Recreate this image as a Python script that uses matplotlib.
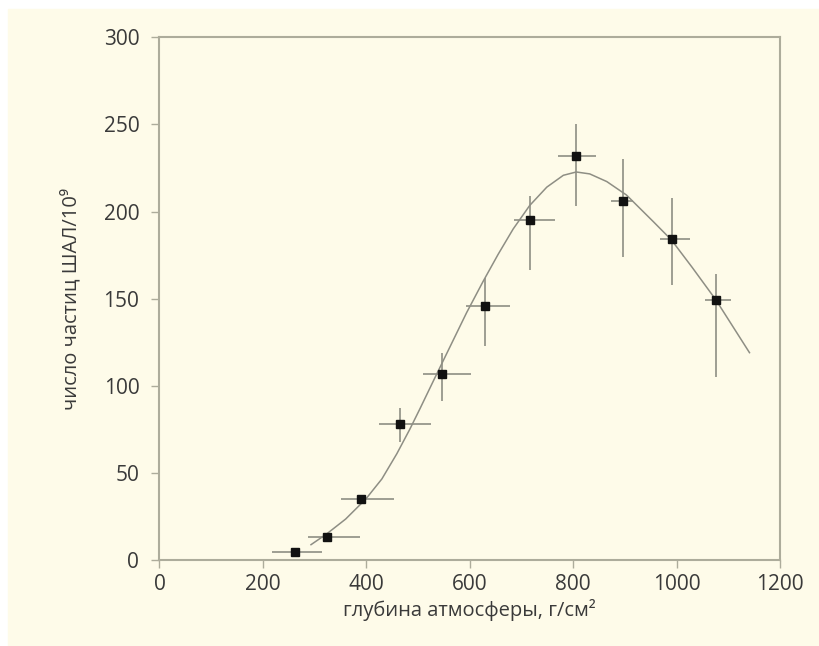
import numpy as np
import matplotlib
matplotlib.use("Agg")
import matplotlib.pyplot as plt
from matplotlib.patches import Rectangle

plt.rcParams["font.family"] = ["Open Sans", "DejaVu Sans"]

# measured points (depth g/cm^2, particles / 1e9)
depth = [263, 323, 390, 466, 546, 630, 717, 805, 896, 991, 1076]
count = [4.6, 13.4, 34.8, 78, 107, 146, 195, 232, 206, 184, 149]
depth_lo = [217, 287, 351, 425, 510, 592, 686, 771, 873, 967, 1055]
depth_hi = [314, 388, 454, 525, 602, 677, 764, 844, 916, 1026, 1105]
count_lo = [4.6, 13.4, 34.8, 68, 91, 123, 166.5, 203, 174, 158, 105]
count_hi = [4.6, 13.4, 34.8, 87, 119, 162, 209, 250, 230, 208, 164]

# fitted curve
fit_x = [293, 323, 360, 399, 430, 459, 484, 504, 530, 562, 594, 626, 655,
         684, 716, 749, 781, 806, 832, 865, 903, 955, 990, 1030, 1076, 1141]
fit_y = [8.8, 14.9, 23.5, 35, 46.5, 61, 75, 87, 103, 122.5, 142, 160, 175.5,
         190, 203.5, 214, 220.8, 222.7, 221.6, 217.2, 209.5, 194.2, 183.7,
         168, 149.3, 119]

bg = "#fefbe9"
grey = "#8e8e84"
frame = "#adac9b"
txt = "#3a3a3a"

fig = plt.figure(figsize=(8.2, 6.46), dpi=100, facecolor="white")
fig.add_artist(Rectangle((8 / 820, 0), 1, (646 - 9) / 646,
                         transform=fig.transFigure, color=bg, zorder=-10))
ax = fig.add_axes([159.5 / 820, (646 - 560) / 646, 620.5 / 820, 522.7 / 646])
ax.set_facecolor(bg)

ax.plot(fit_x, fit_y, color=grey, lw=1.1, zorder=2, solid_joinstyle="round")

x = np.array(depth)
y = np.array(count)
xerr = [x - np.array(depth_lo), np.array(depth_hi) - x]
yerr = [y - np.array(count_lo), np.array(count_hi) - y]
ax.errorbar(x, y, xerr=xerr, yerr=yerr, fmt="none", ecolor=grey,
            elinewidth=1.2, capsize=0, zorder=3)
ax.plot(x, y, "s", color="#111111", ms=6, zorder=4)

ax.set_xlim(0, 1200)
ax.set_ylim(0, 300)
ax.set_xticks(range(0, 1201, 200))
ax.set_yticks(range(0, 301, 50))

for s in ax.spines.values():
    s.set_color(frame)
    s.set_linewidth(1.5)
ax.tick_params(direction="out", length=6, width=1, color=frame,
               labelsize=15, labelcolor=txt)
ax.tick_params(axis="x", pad=4)
ax.tick_params(axis="y", pad=8.5)

ax.set_xlabel("глубина атмосферы, г/см²", fontsize=14.5, color=txt, labelpad=3)
ax.set_ylabel("число частиц ШАЛ/10⁹", fontsize=14.5, color=txt, labelpad=16)

fig.savefig("out.png", dpi=100, facecolor="white")
